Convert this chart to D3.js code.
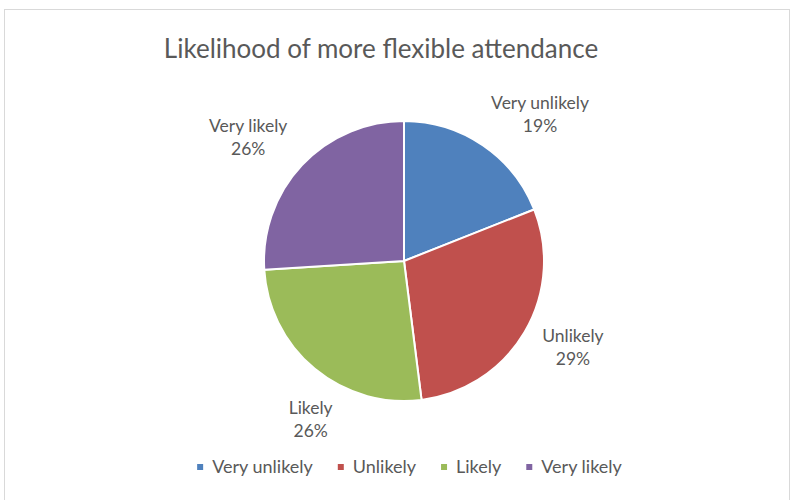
<!DOCTYPE html>
<html>
<head>
<meta charset="utf-8">
<script src="https://cdn.jsdelivr.net/npm/d3@7"></script>
<style>
  html, body { margin: 0; padding: 0; background: #ffffff; }
  svg { display: block; }
  text { font-family: Lato, "Open Sans", "DejaVu Sans", sans-serif; fill: #595959; }
</style>
</head>
<body>
<svg id="chart" width="792" height="500"></svg>
<script>
// Survey responses: likelihood of more flexible attendance (percent)
const categories = ["Very unlikely", "Unlikely", "Likely", "Very likely"];
const values = [19, 29, 26, 26];
const colors = ["#4F81BD", "#C0504D", "#9BBB59", "#8064A2"];
const title = "Likelihood of more flexible attendance";

const W = 792, H = 500;
const cx = 404, cy = 261, radius = 140;

const svg = d3.select("#chart");

// chart area frame
svg.append("rect")
  .attr("x", 4.5).attr("y", 9.5)
  .attr("width", 785).attr("height", 520)
  .attr("fill", "#ffffff")
  .attr("stroke", "#d9d9d9")
  .attr("stroke-width", 1);

// title
svg.append("text")
  .attr("x", 381).attr("y", 58)
  .attr("text-anchor", "middle")
  .style("font-size", "26px")
  .text(title);

const data = categories.map((c, i) => ({ category: c, value: values[i], color: colors[i] }));

const pie = d3.pie().value(d => d.value).sort(null);
const arcs = pie(data);
const arc = d3.arc().innerRadius(0).outerRadius(radius);

const g = svg.append("g").attr("transform", `translate(${cx},${cy})`);

g.selectAll("path.slice")
  .data(arcs)
  .join("path")
  .attr("class", "slice")
  .attr("d", arc)
  .attr("fill", d => d.data.color)
  .attr("stroke", "#ffffff")
  .attr("stroke-width", 2)
  .attr("stroke-linejoin", "round");

// data labels outside the pie ("best fit" style), category over percentage
const labelArc = d3.arc().innerRadius(radius * 1.36).outerRadius(radius * 1.36);
const labelNudge = [[29, 10], [5, -11], [28, 11], [-17, 6]];
const total = d3.sum(values);

const labels = g.selectAll("g.label")
  .data(arcs)
  .join("g")
  .attr("class", "label")
  .attr("transform", (d, i) => {
    const [x, y] = labelArc.centroid(d);
    return `translate(${x + labelNudge[i][0]},${y + labelNudge[i][1]})`;
  });

labels.append("text")
  .attr("text-anchor", "middle")
  .attr("y", -5)
  .style("font-size", "17.5px")
  .text(d => d.data.category);

labels.append("text")
  .attr("text-anchor", "middle")
  .attr("y", 18)
  .style("font-size", "17.5px")
  .text(d => Math.round(d.data.value / total * 100) + "%");

// legend along the bottom
const legend = svg.append("g").attr("class", "legend");
const sw = 6, gapText = 9, gapItem = 25, legendY = 467;
let xPos = 0;
categories.forEach((c, i) => {
  const item = legend.append("g").attr("transform", `translate(${xPos},0)`);
  item.append("rect")
    .attr("x", 0).attr("y", legendY - sw / 2)
    .attr("width", sw).attr("height", sw)
    .attr("fill", colors[i]);
  const t = item.append("text")
    .attr("x", sw + gapText).attr("y", legendY + 6)
    .style("font-size", "18px")
    .text(c);
  xPos += sw + gapText + t.node().getComputedTextLength() + gapItem;
});
const legendWidth = xPos - gapItem;
legend.attr("transform", `translate(${409.5 - legendWidth / 2},0)`);
</script>
</body>
</html>
